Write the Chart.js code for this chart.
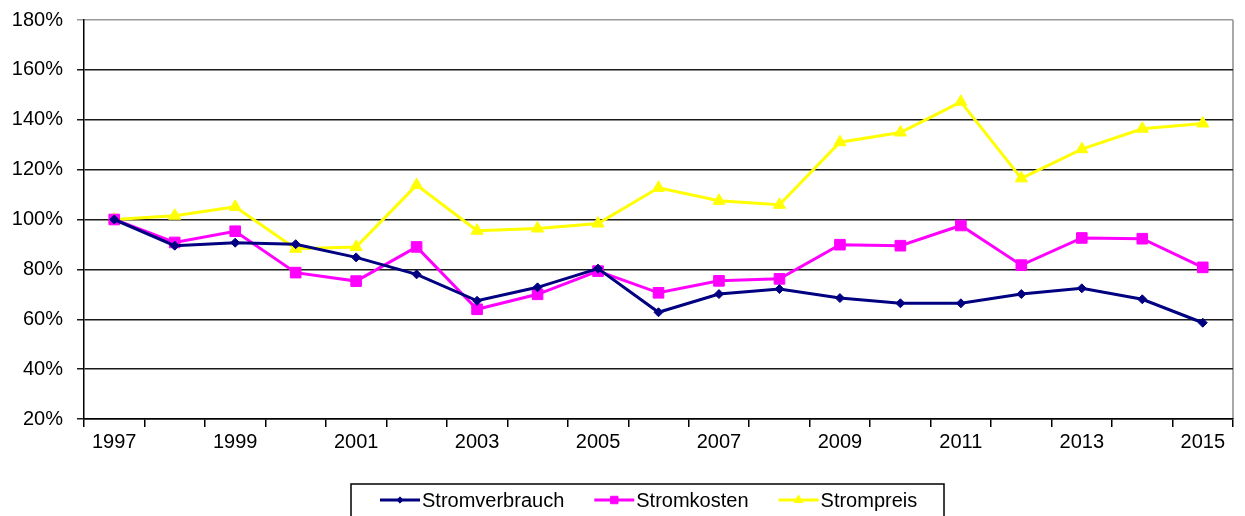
<!DOCTYPE html>
<html>
<head>
<meta charset="utf-8">
<script src="https://cdn.jsdelivr.net/npm/chart.js@4.4.1/dist/chart.umd.min.js"></script>
<style>
  html, body { margin: 0; padding: 0; background: #fff; }
  #wrap { width: 1245px; height: 516px; position: relative; }
</style>
</head>
<body>
<div id="wrap"><canvas id="lineGraph" width="1245" height="516"></canvas></div>
<script>
var years = ['1997','1998','1999','2000','2001','2002','2003','2004','2005','2006',
             '2007','2008','2009','2010','2011','2012','2013','2014','2015'];

var stromverbrauch = [100, 89.5, 90.7, 90.1, 84.8, 78, 67.4, 72.8, 80.3, 62.8,
                      70.1, 72.1, 68.5, 66.4, 66.4, 70.1, 72.4, 68, 58.6];
var stromkosten    = [100, 90.8, 95.3, 78.7, 75.3, 89, 64, 70, 79.3, 70.6,
                      75.4, 76.2, 89.9, 89.5, 97.6, 81.7, 92.6, 92.3, 80.8];
var strompreis     = [100, 101.5, 105.1, 88.3, 89, 113.8, 95.5, 96.4, 98.4, 112.7,
                      107.5, 105.9, 131, 134.9, 147.2, 116.5, 128.2, 136.4, 138.5];

var seriesNames = ['Stromverbrauch', 'Stromkosten', 'Strompreis'];
var yTicks = [20, 40, 60, 80, 100, 120, 140, 160, 180];

var fontFamily = '"Liberation Sans", Arial, sans-serif';

// box legend like the original office chart, line sample with marker in the middle
var boxLegend = {
  id: 'boxLegend',
  afterDraw: function(chart) {
    var ctx = chart.ctx;
    var left = 351, top = 484, width = 593, height = 40;
    ctx.save();
    ctx.strokeStyle = '#000';
    ctx.lineWidth = 1.5;
    ctx.strokeRect(left, top, width, height);
    ctx.font = '20px ' + fontFamily;
    ctx.textBaseline = 'middle';
    var x = 380, y = 500;
    chart.data.datasets.forEach(function(ds) {
      ctx.strokeStyle = ds.borderColor;
      ctx.fillStyle = ds.borderColor;
      ctx.lineWidth = 3;
      ctx.beginPath();
      ctx.moveTo(x, y);
      ctx.lineTo(x + 40, y);
      ctx.stroke();
      ctx.lineWidth = 1;
      Chart.helpers.drawPoint(ctx, {
        pointStyle: ds.pointStyle, radius: ds.pointRadius * 0.7, borderWidth: 1
      }, x + 20, y);
      ctx.fillStyle = '#000';
      ctx.fillText(ds.label, x + 42, y + 1);
      x += 42 + ctx.measureText(ds.label).width + 30;
    });
    ctx.restore();
  },
  beforeDraw: function(chart) {
    // right border of plot area
    var a = chart.chartArea, ctx = chart.ctx;
    ctx.save();
    ctx.strokeStyle = '#8c8c8c';
    ctx.lineWidth = 1.5;
    ctx.beginPath();
    ctx.moveTo(a.right, a.top);
    ctx.lineTo(a.right, a.bottom);
    ctx.stroke();
    ctx.restore();
  }
};

function makeSet(label, data, color, style, radius) {
  return {
    label: label,
    data: data,
    borderColor: color,
    backgroundColor: color,
    pointBackgroundColor: color,
    pointBorderColor: color,
    pointStyle: style,
    pointRadius: radius,
    pointBorderWidth: 1,
    borderWidth: 3,
    tension: 0,
    fill: false
  };
}

var ctx = document.getElementById('lineGraph').getContext('2d');
var chart = new Chart(ctx, {
  type: 'line',
  data: {
    labels: years,
    datasets: [
      makeSet(seriesNames[0], stromverbrauch, '#000080', 'rectRot', 4.5),
      makeSet(seriesNames[1], stromkosten, '#ff00ff', 'rect', 7.5),
      makeSet(seriesNames[2], strompreis, '#ffff00', 'triangle', 7)
    ]
  },
  options: {
    responsive: false,
    maintainAspectRatio: false,
    animation: false,
    layout: { padding: { left: 0, right: 12, top: 20, bottom: 57 } },
    plugins: {
      legend: { display: false },
      tooltip: { enabled: false }
    },
    scales: {
      x: {
        offset: true,
        grid: {
          offset: true,
          drawOnChartArea: false,
          drawTicks: true,
          tickLength: 8,
          color: '#000',
          lineWidth: 1.5
        },
        border: { color: '#000', width: 1.5 },
        ticks: {
          autoSkip: false,
          maxRotation: 0,
          padding: 3,
          color: '#000',
          font: { size: 20, family: fontFamily },
          callback: function(v, i) { return i % 2 === 0 ? years[i] : ''; }
        },
        afterFit: function(scale) {
          scale.height = 40;
          scale.paddingLeft = 0;
          scale.paddingRight = 0;
        }
      },
      y: {
        min: yTicks[0],
        max: yTicks[yTicks.length - 1],
        afterBuildTicks: function(scale) {
          scale.ticks = yTicks.map(function(v) { return { value: v }; });
        },
        grid: {
          color: function(c) { return c.tick && c.tick.value === 180 ? '#9a9a9a' : '#1a1a1a'; },
          lineWidth: 1.5,
          tickLength: 7
        },
        border: { color: '#000', width: 1.5 },
        ticks: {
          padding: 14,
          color: '#000',
          font: { size: 20, family: fontFamily },
          callback: function(v) { return v + '%'; }
        },
        afterFit: function(scale) {
          scale.width = 84;
          scale.paddingTop = 0;
          scale.paddingBottom = 0;
        }
      }
    }
  },
  plugins: [boxLegend]
});
</script>
</body>
</html>
